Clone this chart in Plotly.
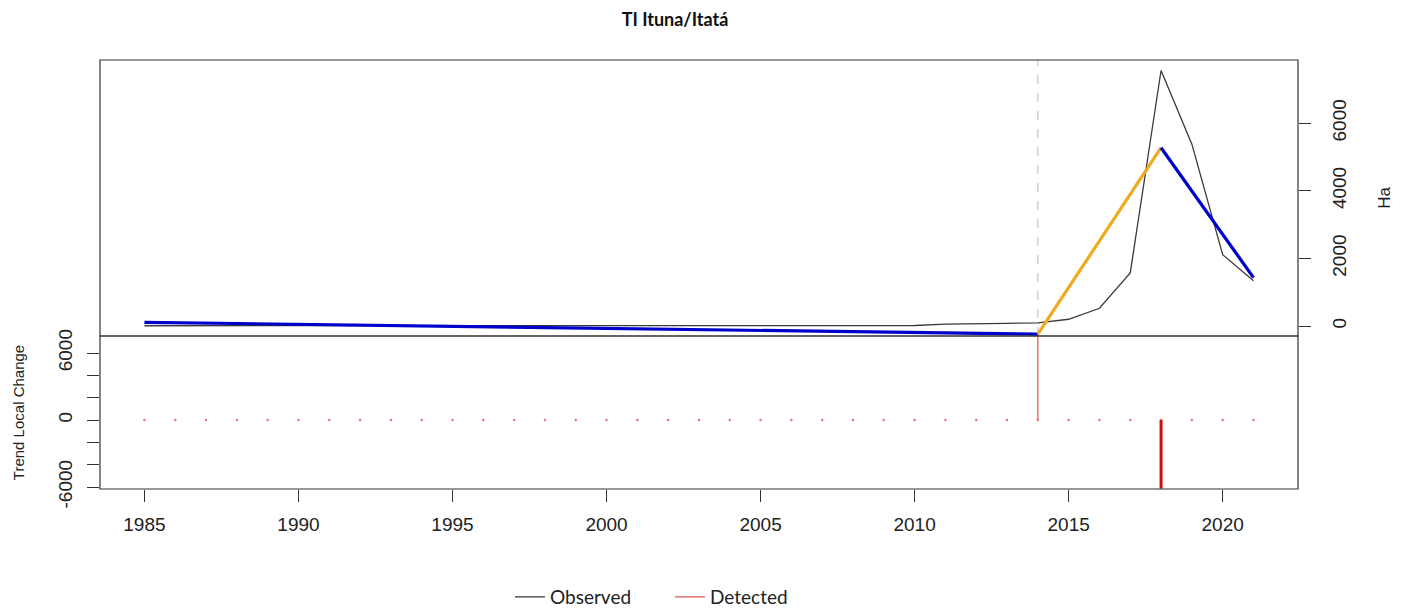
import plotly.graph_objects as go

# ---------------- data ----------------
years = list(range(1985, 2022))
observed = [8, 8, 8, 8, 8, 8, 8, 8, 8, 8,
            8, 8, 8, 8, 8, 8, 8, 8, 8, 8,
            10, 10, 10, 10, 12, 15, 55, 75, 80, 90,
            200, 525, 1570, 7560, 5380, 2110, 1340]

# piecewise trend (breakpoints)
trend1_years = [1985, 2014]
trend1_vals = [110, -240]
trend2_years = [2014, 2018]
trend2_vals = [-240, 5275]
trend3_years = [2018, 2021]
trend3_vals = [5275, 1430]

changepoint_year = 2014

# trend local change (spikes)
spike_years = [2014, 2018]
spike_vals = [7500, -6150]

title_text = "TI Ituna/Itatá"
xtick_vals = [1985, 1990, 1995, 2000, 2005, 2010, 2015, 2020]
top_ticks = [0, 2000, 4000, 6000]
bot_ticks = [-6000, -4000, -2000, 0, 2000, 4000, 6000]
bot_ticktext = ["-6000", "", "", "0", "", "", "6000"]

# ---------------- figure ----------------
fig = go.Figure()

AX_FONT = dict(family="Arial", size=19, color="#222")

# page body has an 8px margin -> figure drawn at offset (8, 8)
W, H = 1396, 600

# upper panel
fig.add_trace(go.Scatter(x=years, y=observed, mode="lines", name="Observed",
                         line=dict(color="#3a3a3a", width=1.3),
                         xaxis="x2", yaxis="y", showlegend=True))
fig.add_trace(go.Scatter(x=trend1_years, y=trend1_vals, mode="lines",
                         line=dict(color="#0000cd", width=3.2),
                         xaxis="x2", yaxis="y", showlegend=False))
fig.add_trace(go.Scatter(x=trend2_years, y=trend2_vals, mode="lines",
                         line=dict(color="#f0aa20", width=3.2),
                         xaxis="x2", yaxis="y", showlegend=False))
fig.add_trace(go.Scatter(x=trend3_years, y=trend3_vals, mode="lines",
                         line=dict(color="#0000cd", width=3.2),
                         xaxis="x2", yaxis="y", showlegend=False))

# lower panel: tiny dots at zero
fig.add_trace(go.Scatter(x=years, y=[0] * len(years), mode="markers",
                         marker=dict(color="#e07a7a", size=2.5),
                         xaxis="x", yaxis="y2", showlegend=False))
# spikes
spike_styles = [dict(color="#e06a6a", width=1.4), dict(color="#cc1010", width=3)]
for i, (yr, v) in enumerate(zip(spike_years, spike_vals)):
    fig.add_trace(go.Scatter(x=[yr, yr], y=[0, v], mode="lines",
                             name="Detected", line=spike_styles[i],
                             xaxis="x", yaxis="y2", showlegend=(i == 0)))

bot_h = 153 / 429.0

fig.update_layout(
    width=W, height=H,
    margin=dict(l=92, r=106, t=52, b=119, autoexpand=False),
    paper_bgcolor="white", plot_bgcolor="white",
    title=dict(text="<b>" + title_text + "</b>", x=667 / W, xanchor="center",
               y=1 - 12 / H, yanchor="middle", xref="container", yref="container",
               font=dict(family="Lato, Open Sans, sans-serif", size=18, color="#111")),
    xaxis=dict(domain=[0, 1], anchor="y2", range=[1983.558, 2022.445],
               tickvals=xtick_vals, ticks="outside", ticklen=12, tickcolor="#333",
               ticklabelstandoff=6, automargin=False,
               showgrid=False, zeroline=False, showline=False, tickfont=AX_FONT),
    xaxis2=dict(domain=[0, 1], anchor="y", matches="x", showticklabels=False,
                automargin=False,
                ticks="", showgrid=False, zeroline=False, showline=False),
    yaxis=dict(domain=[bot_h, 1], anchor="x2", side="right", range=[-296, 7870],
               tickvals=top_ticks, ticks="outside", ticklen=12, tickcolor="#333",
               tickangle=-90, showgrid=False, zeroline=False, showline=False,
               ticklabelstandoff=12, automargin=False,
               tickfont=AX_FONT,
               title=dict(text="Ha", font=dict(family="Arial", size=17, color="#222"),
                          standoff=29)),
    yaxis2=dict(domain=[0, bot_h], anchor="x", side="left", range=[-6179, 7522],
                tickvals=bot_ticks, ticktext=bot_ticktext, ticks="outside", ticklen=12,
                tickcolor="#333", tickangle=-90, showgrid=False, zeroline=False,
                showline=False, tickfont=AX_FONT, automargin=False,
                ticklabelstandoff=7,
                title=dict(text="Trend Local Change",
                           font=dict(family="Arial", size=15, color="#222"),
                           standoff=27)),
    legend=dict(orientation="h", x=(510 - 8) / W, xanchor="left", xref="container",
                y=(H - 589) / H, yanchor="middle", yref="container",
                entrywidth=115, entrywidthmode="pixels",
                font=dict(family="Lato, Open Sans, sans-serif", size=19, color="#222"),
                bgcolor="rgba(0,0,0,0)"),
)

# panel boxes
fig.add_shape(type="rect", xref="x domain", yref="y domain", x0=0, x1=1, y0=0, y1=1,
              line=dict(color="#333", width=1.2), layer="above")
fig.add_shape(type="rect", xref="x domain", yref="y2 domain", x0=0, x1=1, y0=0, y1=1,
              line=dict(color="#333", width=1.2), layer="above")
# changepoint dashed line in upper panel
fig.add_shape(type="line", xref="x2", yref="y domain", x0=changepoint_year,
              x1=changepoint_year, y0=0, y1=1,
              line=dict(color="#c8c8c8", width=1.3, dash="dash"), layer="below")

fig.write_html("out.html")
